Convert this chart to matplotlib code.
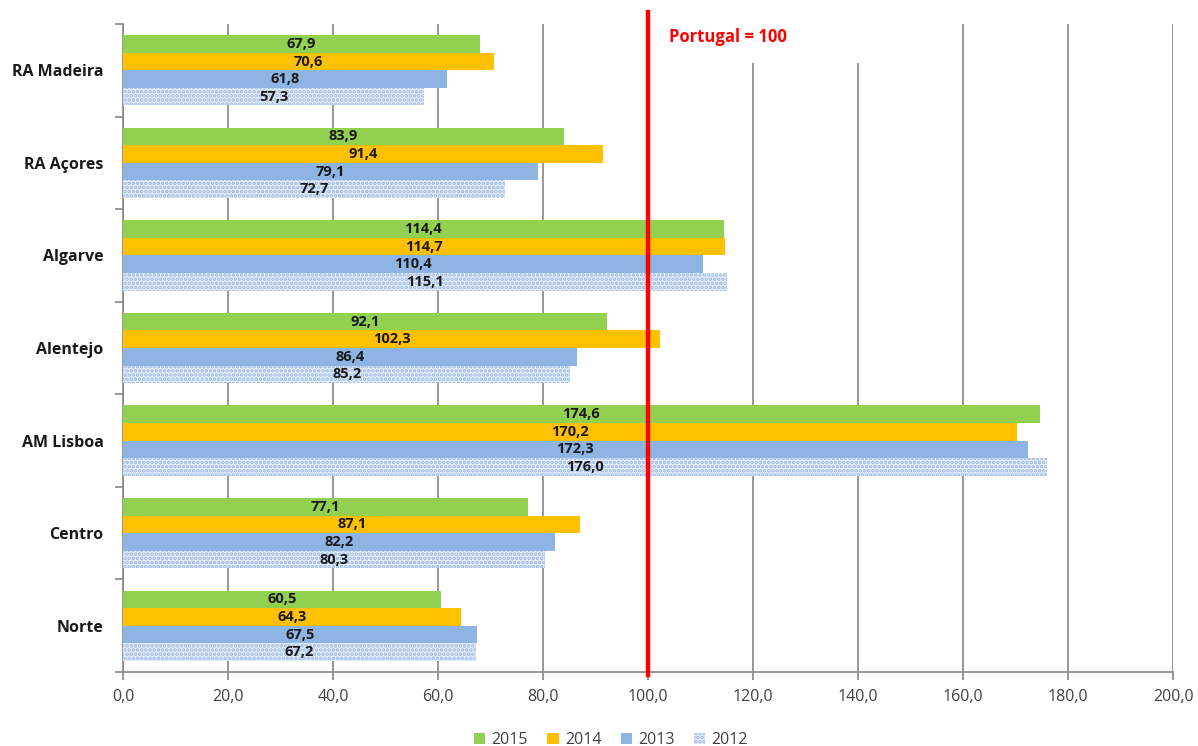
import matplotlib
matplotlib.use("Agg")
import matplotlib.pyplot as plt
from matplotlib.patches import Rectangle
from matplotlib.ticker import FuncFormatter, MultipleLocator
import numpy as np

plt.rcParams['font.family'] = ['Open Sans', 'DejaVu Sans']
plt.rcParams['hatch.linewidth'] = 1.8

regions = ["Norte", "Centro", "AM Lisboa", "Alentejo", "Algarve", "RA Açores", "RA Madeira"]
years = ["2015", "2014", "2013", "2012"]
v2015 = [60.5, 77.1, 174.6, 92.1, 114.4, 83.9, 67.9]
v2014 = [64.3, 87.1, 170.2, 102.3, 114.7, 91.4, 70.6]
v2013 = [67.5, 82.2, 172.3, 86.4, 110.4, 79.1, 61.8]
v2012 = [67.2, 80.3, 176.0, 85.2, 115.1, 72.7, 57.3]
reference_value = 100
reference_label = "Portugal = 100"

series = [v2015, v2014, v2013, v2012]
colors = ["#92D050", "#FFC000", "#8DB4E2", "#E6EEF9"]

fig = plt.figure(figsize=(11.98, 7.46), dpi=100)
ax = fig.add_axes([0.1027, 0.0992, 0.8765, 0.8686])

y = np.arange(len(regions))
h = 0.19
offsets = [1.5 * h, 0.5 * h, -0.5 * h, -1.5 * h]

fmt = lambda v: f"{v:.1f}".replace(".", ",")

for vals, col, off, yr in zip(series, colors, offsets, years):
    if yr == "2012":
        bars = ax.barh(y + off, vals, height=h, color=col, edgecolor="#9DB9E3",
                       hatch="....", linewidth=0, zorder=3, label=yr)
    else:
        bars = ax.barh(y + off, vals, height=h, color=col, linewidth=0,
                       zorder=3, label=yr)
    for b, v in zip(bars, vals):
        ax.text(v / 2, b.get_y() + b.get_height() / 2, fmt(v), ha="center",
                va="center", fontsize=10.5, fontweight="bold", color="#1a1a1a",
                zorder=5)

ax.set_xlim(0, 200)
ax.set_ylim(-0.5, len(regions) - 0.5)
ax.xaxis.set_major_locator(MultipleLocator(20))
ax.xaxis.set_major_formatter(FuncFormatter(lambda v, p: fmt(v)))
ax.grid(axis="x", color="#868686", linewidth=1.2, zorder=0)
ax.set_axisbelow(True)

ax.set_yticks(y)
ax.set_yticklabels(regions, fontsize=11.5, fontweight="bold", color="#1a1a1a")
ax.set_yticks(np.arange(-0.5, len(regions)), minor=True)
ax.tick_params(axis="y", which="major", length=0, pad=14)
ax.tick_params(axis="y", which="minor", length=6, width=1.2, color="#868686")
ax.tick_params(axis="x", length=6, width=1.2, color="#868686", labelsize=11.5,
               labelcolor="#404040", pad=6)

for side in ["top", "right"]:
    ax.spines[side].set_visible(False)
for side in ["left", "bottom"]:
    ax.spines[side].set_color("#868686")
    ax.spines[side].set_linewidth(1.2)

# white box behind the reference label
ax.add_patch(Rectangle((101, 6.08), 52, 0.42, facecolor="white", edgecolor="none",
                       zorder=2))
ax.text(104, 6.36, reference_label, color="#FF0000", fontsize=12,
        fontweight="bold", ha="left", va="center", zorder=6)

ax.axvline(reference_value, ymin=-0.005, ymax=1.0185, color="#FF0000",
           linewidth=3.2, zorder=6, clip_on=False)

leg = fig.legend(loc="lower center", bbox_to_anchor=(0.51, -0.022), ncol=4,
                 frameon=False, fontsize=11.5, handlelength=0.7, handleheight=0.7,
                 handletextpad=0.4, columnspacing=1.2)
for t in leg.get_texts():
    t.set_color("#404040")

fig.savefig("out.png", dpi=100)
